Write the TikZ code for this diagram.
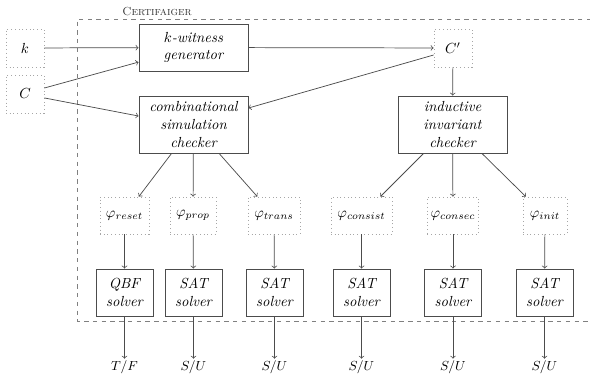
\documentclass[tikz,border=0pt]{standalone}
\usetikzlibrary{arrows}
\begin{document}
\begin{tikzpicture}[x=0.685pt,y=-0.685pt,
  every node/.style={font=\itshape, align=center, inner sep=0pt},
  inbox/.style={draw=black!35, dotted, line width=0.55pt, minimum width=26pt, minimum height=26pt},
  phibox/.style={draw=black!35, dotted, line width=0.55pt, minimum height=25.3pt},
  procbox/.style={draw=black!70, line width=0.6pt, minimum width=74.7pt},
  solverbox/.style={draw=black!70, line width=0.6pt, minimum width=39pt, minimum height=32.2pt},
  outnode/.style={font=\small, inner sep=1pt},
  conn/.style={draw=black!70, line width=0.5pt, ->, >=to},
  frame/.style={draw=black!50, dashed, line width=0.6pt}
]
\useasboundingbox (0,0) rectangle (590,374);

% frame
\draw[frame] (600,19) -- (77,19) -- (77,321) -- (600,321);
\node[font=\footnotesize\scshape, text=black!80] (lbl) at (157,12) {Certifaiger};

% inputs
\node[inbox] (k) at (25,48) {$k$};
\node[inbox] (C) at (25,94) {$C$};
\node[inbox] (Cp) at (453,48) {$C'$};

% processing
\node[procbox, minimum height=32.2pt] (gen) at (193.5,47.5) {$k$-witness\\generator};
\node[procbox, minimum height=39pt] (comb) at (193.5,124.5) {combinational\\simulation\\checker};
\node[procbox, minimum height=39pt] (ind) at (452.5,124.5) {inductive\\invariant\\checker};

% formulas
\node[phibox, minimum width=33.6pt] (preset) at (124.5,215.5) {$\varphi_{reset}$};
\node[phibox, minimum width=31.5pt] (pprop) at (193,215.5) {$\varphi_{prop}$};
\node[phibox, minimum width=35.6pt] (ptrans) at (274,215.5) {$\varphi_{trans}$};
\node[phibox, minimum width=41.8pt] (pconsist) at (361.5,215.5) {$\varphi_{consist}$};
\node[phibox, minimum width=35pt] (pconsec) at (453,215.5) {$\varphi_{consec}$};
\node[phibox, minimum width=30.1pt] (pinit) at (545,215.5) {$\varphi_{init}$};

% solvers
\node[solverbox] (s1) at (124.5,292.5) {QBF\\solver};
\node[solverbox] (s2) at (193.5,292.5) {SAT\\solver};
\node[solverbox] (s3) at (274.5,292.5) {SAT\\solver};
\node[solverbox] (s4) at (361.5,292.5) {SAT\\solver};
\node[solverbox] (s5) at (453,292.5) {SAT\\solver};
\node[solverbox] (s6) at (544.5,292.5) {SAT\\solver};

% outputs
\node[outnode] (o1) at (124.5,367) {$T/F$};
\node[outnode] (o2) at (193.5,367) {$S/U$};
\node[outnode] (o3) at (274.5,367) {$S/U$};
\node[outnode] (o4) at (361.5,367) {$S/U$};
\node[outnode] (o5) at (453,367) {$S/U$};
\node[outnode] (o6) at (544.5,367) {$S/U$};

% connectors
\draw[conn] (k) -- (gen);
\draw[conn] ([yshift=4.1pt]C.east) -- ([yshift=-10pt]gen.west);
\draw[conn] ([yshift=-2.7pt]C.east) -- ([yshift=5.8pt]comb.west);
\draw[conn] (gen) -- (Cp);
\draw[conn] ([yshift=-4.8pt]Cp.west) -- ([yshift=11.3pt]comb.east);
\draw[conn] (Cp) -- (ind);

\draw[conn] (comb) -- (preset);
\draw[conn] (comb) -- (pprop);
\draw[conn] (comb) -- (ptrans);
\draw[conn] (ind) -- (pconsist);
\draw[conn] (ind) -- (pconsec);
\draw[conn] (ind) -- (pinit);

\draw[conn] (preset) -- (s1);
\draw[conn] (pprop) -- (s2);
\draw[conn] (ptrans) -- (s3);
\draw[conn] (pconsist) -- (s4);
\draw[conn] (pconsec) -- (s5);
\draw[conn] (pinit) -- (s6);

\draw[conn] (s1) -- (o1);
\draw[conn] (s2) -- (o2);
\draw[conn] (s3) -- (o3);
\draw[conn] (s4) -- (o4);
\draw[conn] (s5) -- (o5);
\draw[conn] (s6) -- (o6);
\end{tikzpicture}
\end{document}
